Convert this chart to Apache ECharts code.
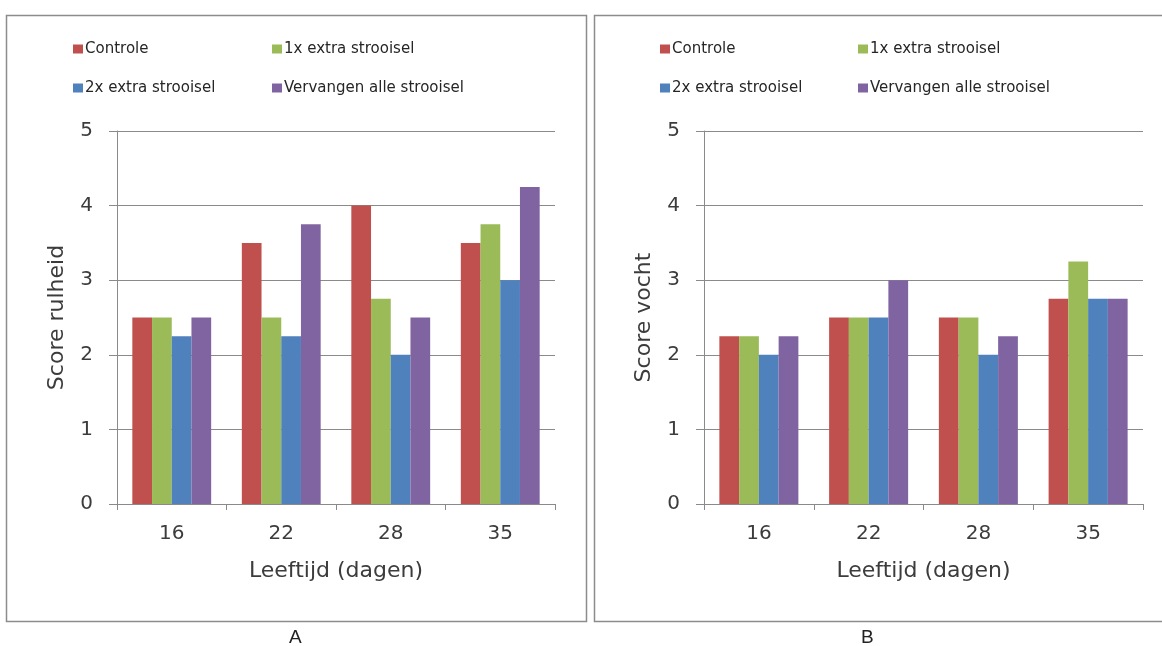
<!DOCTYPE html>
<html>
<head>
<meta charset="utf-8">
<script src="https://cdn.jsdelivr.net/npm/echarts@6/dist/echarts.min.js"></script>
<style>
html,body{margin:0;padding:0;background:#fff;}
#c{width:1162px;height:646px;}
</style>
</head>
<body>
<div id="c"></div>
<script>
// ---- data ----
const categories = ['16', '22', '28', '35'];
const seriesNames = ['Controle', '1x extra strooisel', '2x extra strooisel', 'Vervangen alle strooisel'];
const colors = ['#C0504D', '#9BBB59', '#4F81BD', '#8064A2'];

// Panel A: Score rulheid
const rulheidControle = [2.5, 3.5, 4.0, 3.5];
const rulheid1x = [2.5, 2.5, 2.75, 3.75];
const rulheid2x = [2.25, 2.25, 2.0, 3.0];
const rulheidVervangen = [2.5, 3.75, 2.5, 4.25];

// Panel B: Score vocht
const vochtControle = [2.25, 2.5, 2.5, 2.75];
const vocht1x = [2.25, 2.5, 2.5, 3.25];
const vocht2x = [2.0, 2.5, 2.0, 2.75];
const vochtVervangen = [2.25, 3.0, 2.25, 2.75];

const yTicks = [0, 1, 2, 3, 4, 5];
const panelLabels = ['A', 'B'];
const yNames = ['Score rulheid', 'Score vocht'];
const xName = 'Leeftijd (dagen)';

// ---- chart ----
const FONT = 'DejaVu Sans';
const GRID_COL = '#8a8a8a';
const TXT = '#3c3c3c';

const panelData = [
  [rulheidControle, rulheid1x, rulheid2x, rulheidVervangen],
  [vochtControle, vocht1x, vocht2x, vochtVervangen]
];

const grids = [
  { left: 117, right: 607, top: 131, bottom: 142 },
  { left: 704, right: 19, top: 131, bottom: 142 }
];

function xAxis(i) {
  return {
    type: 'category', gridIndex: i, data: categories,
    name: xName, nameLocation: 'middle', nameGap: 56,
    nameTextStyle: { fontFamily: FONT, fontSize: 22, color: TXT },
    axisLine: { lineStyle: { color: GRID_COL, width: 1 } },
    axisTick: { show: true, length: 6, lineStyle: { color: GRID_COL } },
    axisLabel: { fontFamily: FONT, fontSize: 20, color: TXT, margin: 20 }
  };
}
function yAxis(i) {
  return {
    type: 'value', gridIndex: i, min: 0, max: 5, interval: 1,
    name: yNames[i], nameLocation: 'middle', nameGap: 49,
    nameTextStyle: { fontFamily: FONT, fontSize: 22, color: TXT },
    axisLine: { show: true, lineStyle: { color: GRID_COL, width: 1 } },
    axisTick: { show: true, length: 8, lineStyle: { color: GRID_COL } },
    axisLabel: {
      fontFamily: FONT, fontSize: 20, color: TXT, margin: 24,
      formatter: v => (yTicks.indexOf(v) >= 0 ? String(v) : '')
    },
    splitLine: { show: true, lineStyle: { color: GRID_COL, width: 1 } }
  };
}

const series = [];
panelData.forEach((arrs, p) => {
  arrs.forEach((vals, s) => {
    series.push({
      type: 'bar', name: seriesNames[s], xAxisIndex: p, yAxisIndex: p,
      data: vals, barGap: '0%', barCategoryGap: '28%',
      itemStyle: { color: colors[s] }
    });
  });
});

// legends: 2x2 layout per panel
const legendCols = [[73, 272], [660, 858]];
const legendRows = [41, 80];
const legends = [];
[0, 1].forEach(p => {
  seriesNames.forEach((n, s) => {
    legends.push({
      data: [n], icon: 'rect', itemWidth: 10, itemHeight: 9,
      left: legendCols[p][s % 2], top: legendRows[Math.floor(s / 2)],
      padding: 0, selectedMode: false,
      textStyle: { fontFamily: FONT, fontSize: 15, color: '#262626', lineHeight: 16, padding: [0, 0, 0, -3] }
    });
  });
});

const chart = echarts.init(document.getElementById('c'), null, { renderer: 'canvas' });
chart.setOption({
  animation: false,
  backgroundColor: '#fff',
  grid: grids,
  xAxis: [xAxis(0), xAxis(1)],
  yAxis: [yAxis(0), yAxis(1)],
  legend: legends,
  series: series,
  graphic: [
    { type: 'rect', shape: { x: 6.5, y: 15.5, width: 580, height: 606 }, style: { fill: 'none', stroke: '#8c8c8c', lineWidth: 1.5 }, silent: true, z: -1 },
    { type: 'rect', shape: { x: 594.5, y: 15.5, width: 580, height: 606 }, style: { fill: 'none', stroke: '#8c8c8c', lineWidth: 1.5 }, silent: true, z: -1 },
    { type: 'text', left: 289, top: 628, style: { text: panelLabels[0], font: '19px "Liberation Sans"', fill: '#222' } },
    { type: 'text', left: 861, top: 628, style: { text: panelLabels[1], font: '19px "Liberation Sans"', fill: '#222' } }
  ]
});
</script>
</body>
</html>
